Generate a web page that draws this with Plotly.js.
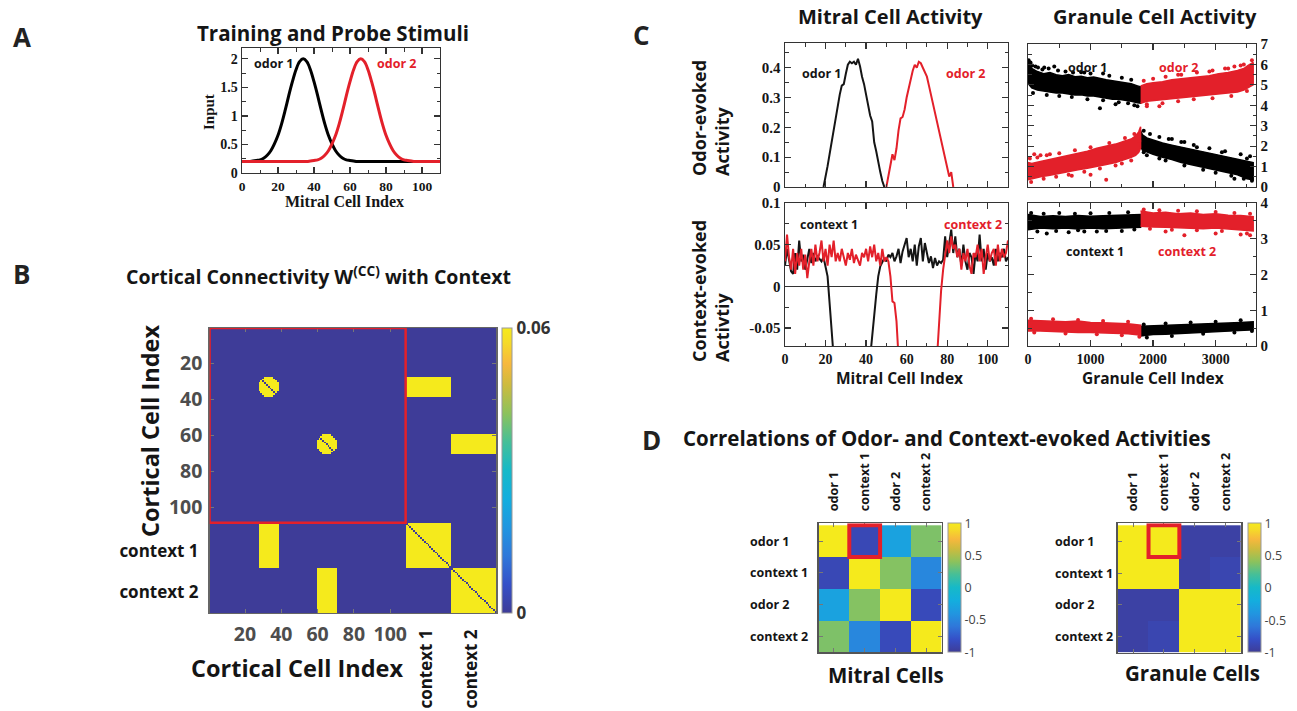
<!DOCTYPE html>
<html>
<head>
<meta charset="utf-8">
<script src="https://cdn.plot.ly/plotly-3.0.1.min.js"></script>
<style>html,body{margin:0;padding:0;background:#fff;}#chart{width:1297px;height:711px;}</style>
</head>
<body>
<div id="chart"></div>
<script>
// ---------------- DATA ----------------
// Panel A: training / probe stimuli (input vs mitral cell index)
const stimIndex = [0,2,4,6,8,10,12,14,16,18,20,22,24,26,28,30,32,34,36,38,40,42,44,46,48,50,52,54,56,58,60,62,64,66,68,70,72,74,76,78,80,82,84,86,88,90,92,94,96,98,100,102,104,106,108,110];
const odor1Input = [0.20,0.20,0.20,0.21,0.22,0.23,0.26,0.31,0.39,0.51,0.66,0.86,1.10,1.36,1.60,1.81,1.95,2.00,1.95,1.81,1.60,1.36,1.10,0.86,0.66,0.51,0.39,0.31,0.26,0.23,0.22,0.21,0.20,0.20,0.20,0.20,0.20,0.20,0.20,0.20,0.20,0.20,0.20,0.20,0.20,0.20,0.20,0.20,0.20,0.20,0.20,0.20,0.20,0.20,0.20,0.20];
const odor2Input = [0.20,0.20,0.20,0.20,0.20,0.20,0.20,0.20,0.20,0.20,0.20,0.20,0.20,0.20,0.20,0.20,0.20,0.20,0.20,0.21,0.22,0.23,0.26,0.31,0.39,0.51,0.66,0.86,1.10,1.36,1.60,1.81,1.95,2.00,1.95,1.81,1.60,1.36,1.10,0.86,0.66,0.51,0.39,0.31,0.26,0.23,0.22,0.21,0.20,0.20,0.20,0.20,0.20,0.20,0.20,0.20];

// Panel B: cortical connectivity structure
const nCortical = 108;
const contextSize = 25;
const contextNames = ['context 1', 'context 2'];
const blobCenters = [33, 65];
const blobRadii = [5.5, 5.5];
const linkedCells = [[28, 38], [60, 70]];      // cortical cells tied to each context
const peakWeight = 0.06;
const cortTicks = [20, 40, 60, 80, 100];
const contextTickX = [120, 145];
const contextTickY = [124, 147];

// Panel C: mitral odor-evoked activity
const odor1MitralX = [19,20,21,22,23,24,25,26,27,28,29,30,31,32,33,34,35,36,37,38,39,40,41,42,43,44,45,46,47,48,49];
const odor1MitralY = [0,0.03,0.07,0.11,0.15,0.20,0.24,0.28,0.31,0.34,0.345,0.38,0.41,0.42,0.415,0.42,0.41,0.43,0.405,0.37,0.345,0.31,0.275,0.24,0.22,0.15,0.12,0.08,0.05,0.02,0];
const odor2MitralX = [50,51,52,53,54,55,56,57,58,59,60,61,62,63,64,65,66,67,68,69,70,71,72,73,74,75,76,77,78,79,80,81,82,83];
const odor2MitralY = [0,0.04,0.08,0.11,0.09,0.13,0.19,0.23,0.235,0.26,0.30,0.33,0.37,0.39,0.41,0.40,0.42,0.415,0.40,0.385,0.37,0.34,0.31,0.28,0.25,0.21,0.18,0.15,0.12,0.09,0.06,0.035,0.05,0];

// Panel C: mitral context-evoked activity (x = mitral index 0..110); null = off scale
const context1Mitral = [0.025,0.045,0.032,0.018,0.015,0.04,0.02,0.055,0.03,0.038,0.02,0.035,0.045,0.028,0.04,0.03,0.036,0.033,0.03,0.035,0.025,0.012,-0.02,-0.05,-0.085,null,null,null,null,null,null,null,null,null,null,null,null,null,null,null,null,null,-0.085,-0.055,-0.035,-0.01,0.012,0.024,0.03,0.034,0.03,0.038,0.035,0.04,0.03,0.036,0.045,0.028,0.042,0.05,0.058,0.035,0.045,0.03,0.05,0.025,0.048,0.058,0.03,0.052,0.04,0.028,0.036,0.022,0.034,0.025,0.03,0.028,0.032,0.06,0.035,0.055,0.068,0.04,0.06,0.035,0.045,0.025,0.05,0.03,0.02,0.04,0.035,0.015,0.04,0.03,0.062,0.03,0.045,0.02,0.04,0.03,0.035,0.025,0.045,0.03,0.04,0.035,0.045,0.03,0.035];
const context2Mitral = [0.03,0.062,0.035,0.02,0.045,0.015,0.04,0.025,0.045,0.02,0.038,0.01,0.03,0.045,0.025,0.05,0.03,0.04,0.055,0.03,0.045,0.025,0.05,0.035,0.055,0.03,0.04,0.03,0.045,0.035,0.025,0.04,0.032,0.045,0.028,0.038,0.03,0.025,0.04,0.035,0.045,0.03,0.048,0.035,0.05,0.03,0.04,0.025,0.045,0.03,0.035,0.03,0.012,-0.018,-0.02,-0.042,-0.085,null,null,null,null,null,null,null,null,null,null,null,null,null,null,null,null,null,null,-0.085,-0.04,-0.005,0.02,0.035,0.055,0.04,0.06,0.045,0.05,0.035,0.045,0.02,0.04,0.03,0.045,0.025,0.015,0.04,0.035,0.05,0.03,0.045,0.015,0.035,0.05,0.03,0.04,0.045,0.025,0.05,0.03,0.045,0.035,0.04,0.055];

// Panel C: granule odor-evoked activity bands (upper / lower edge of dense point clouds)
const odor1HighX = [0,20,60,150,250,350,450,550,650,750,850,950,1050,1150,1250,1350,1450,1550,1650,1750,1800];
const odor1HighTop = [6.25,6.0,5.8,5.65,5.55,5.6,5.5,5.45,5.5,5.4,5.42,5.35,5.38,5.3,5.25,5.2,5.15,5.1,5.05,4.95,4.9];
const odor1HighBot = [5.2,5.0,4.85,4.75,4.7,4.65,4.6,4.6,4.55,4.5,4.52,4.45,4.45,4.4,4.35,4.3,4.3,4.25,4.2,4.12,4.1];
const odor2HighX = [1800,1900,2000,2150,2300,2450,2600,2750,2900,3050,3200,3350,3450,3520,3600];
const odor2HighTop = [4.95,5.05,5.1,5.15,5.25,5.3,5.35,5.4,5.45,5.55,5.6,5.7,5.8,5.95,6.1];
const odor2HighBot = [4.1,4.2,4.22,4.28,4.3,4.35,4.4,4.45,4.5,4.55,4.6,4.65,4.75,4.85,5.0];
const odor2LowX = [0,60,200,350,500,650,800,950,1100,1250,1400,1550,1650,1720,1770,1800];
const odor2LowTop = [1.2,1.15,1.25,1.35,1.45,1.55,1.65,1.75,1.9,2.0,2.1,2.25,2.35,2.5,2.7,2.95];
const odor2LowBot = [0.35,0.38,0.5,0.58,0.65,0.75,0.85,0.92,1.0,1.1,1.2,1.35,1.45,1.55,1.7,1.9];
const odor1LowX = [1800,1830,1900,2000,2150,2300,2450,2600,2750,2900,3050,3200,3350,3500,3600];
const odor1LowTop = [2.75,2.55,2.4,2.3,2.15,2.05,1.95,1.85,1.75,1.65,1.55,1.45,1.35,1.25,1.2];
const odor1LowBot = [2.0,1.8,1.7,1.6,1.45,1.35,1.2,1.1,1.0,0.9,0.8,0.7,0.6,0.4,0.35];
// scattered cells around the dense clouds
const odor1OutX = [40,120,260,420,900,1200,1150,1400,1600,1750,1850,2100,2300,2500,2700,3100,3300,3500,
  10,30,70,160,230,330,480,600,720,850,1000,1300,1500,1650,80,300,500,700,950,1200,1450,1700,
  1850,1950,2100,2250,2450,2650,2900,3150,3400,3550,1900,2200,2500,2800,3000,3250,3450,3580];
const odor1OutY = [6.1,5.9,5.85,5.9,5.6,5.55,3.85,4.05,4.1,3.95,1.7,1.4,2.35,2.2,1.95,1.7,0.4,1.4,
  6.2,6.05,5.95,5.85,5.75,5.8,5.7,5.65,5.6,5.62,5.55,5.45,5.35,5.25,4.6,4.5,4.45,4.4,4.3,4.25,4.15,4.0,
  2.75,2.6,2.45,2.35,2.2,2.05,1.9,1.75,1.6,1.5,1.55,1.3,1.05,0.85,0.7,0.55,0.4,0.3];
const odor2OutX = [100,200,350,700,1000,1250,1500,1780,1900,2100,2400,2900,3200,3400,
  1850,2000,2200,2450,2700,2950,3150,3300,3450,3580,1900,2150,2400,2650,2950,3250,3500,
  30,150,300,500,750,1000,1300,1550,1700,50,250,450,650,900,1150,1400,1650];
const odor2OutY = [1.6,1.55,1.6,0.55,0.6,0.35,1.15,2.25,3.95,3.95,5.5,5.65,5.8,5.95,
  5.2,5.3,5.4,5.5,5.6,5.7,5.8,5.9,6.0,6.2,4.05,4.1,4.2,4.3,4.35,4.45,4.7,
  1.4,1.45,1.55,1.65,1.8,1.95,2.15,2.4,2.6,0.25,0.4,0.5,0.6,0.75,0.9,1.05,1.3];

// Panel C: granule context-evoked activity bands
const firstHalfX = [0,200,400,600,800,1000,1200,1400,1600,1800];
const secondHalfX = [1800,2000,2200,2400,2600,2800,3000,3200,3400,3600];
const ctx1HighTop = [3.68,3.62,3.64,3.62,3.65,3.63,3.64,3.65,3.66,3.68];
const ctx1HighBot = [3.25,3.3,3.28,3.3,3.27,3.3,3.28,3.3,3.3,3.32];
const ctx2HighTop = [3.78,3.72,3.74,3.7,3.72,3.68,3.7,3.66,3.65,3.62];
const ctx2HighBot = [3.35,3.33,3.32,3.3,3.3,3.28,3.3,3.27,3.25,3.22];
const ctx2LowTop = [0.72,0.7,0.7,0.68,0.7,0.66,0.65,0.64,0.62,0.58];
const ctx2LowBot = [0.42,0.42,0.4,0.4,0.38,0.38,0.36,0.36,0.34,0.3];
const ctx1LowTop = [0.55,0.56,0.58,0.6,0.6,0.62,0.63,0.64,0.66,0.68];
const ctx1LowBot = [0.28,0.32,0.33,0.35,0.37,0.38,0.4,0.42,0.43,0.45];
const ctx1OutX = [300,650,900,1100,1500,50,250,500,750,1000,1300,1600,150,450,800,1250,1700,
  1850,2200,2600,3000,3400,1900,2300,2800,3300,3580];
const ctx1OutY = [3.15,3.18,3.2,3.2,3.22,3.72,3.7,3.72,3.7,3.71,3.72,3.74,3.2,3.22,3.24,3.22,3.26,
  0.6,0.63,0.66,0.68,0.72,0.24,0.28,0.34,0.38,0.42];
const ctx2OutX = [2200,2500,3000,3400,3550,1850,2100,2400,2700,3000,3300,3550,1950,2300,2700,3100,3500,
  50,400,800,1200,1600,100,600,1100,1500,1780];
const ctx2OutY = [3.2,3.1,3.15,3.12,3.1,3.82,3.8,3.78,3.77,3.75,3.72,3.7,3.28,3.25,3.24,3.22,3.15,
  0.76,0.75,0.73,0.7,0.68,0.38,0.35,0.33,0.3,0.26];

// Panel D: correlation matrices
const corrLabels = ['odor 1', 'context 1', 'odor 2', 'context 2'];
const mitralCorr = [
  [1.00, -0.88, -0.30, 0.36],
  [-0.88, 1.00, 0.38, -0.50],
  [-0.30, 0.38, 1.00, -0.86],
  [0.36, -0.50, -0.86, 1.00]
];
const granuleCorr = [
  [1.00, 1.00, -0.95, -0.95],
  [1.00, 1.00, -0.95, -0.90],
  [-0.95, -0.95, 1.00, 1.00],
  [-0.95, -0.90, 1.00, 1.00]
];

// ---------------- STYLE / GEOMETRY ----------------
const W = 1297, H = 711;
const SANS = '"Open Sans", Lato, sans-serif';
const SERIF = '"Liberation Serif", "Times New Roman", serif';
const RED = '#e3202a';
const INK = '#151515';
const xd = (l, r) => [l / W, r / W];
const yd = (t, b) => [1 - b / H, 1 - t / H];
const parula = [
  [0, '#3e3c98'], [0.1, '#3550c8'], [0.2, '#2f78da'], [0.3, '#2196e0'],
  [0.4, '#13aede'], [0.5, '#16b9c8'], [0.6, '#45bf98'], [0.7, '#8cc25c'],
  [0.8, '#cdbb3e'], [0.875, '#f7b83d'], [0.95, '#f5db28'], [1, '#f5ea1c']
];
const sf = (size, color) => ({family: SANS, size: size, color: color || INK, weight: 'bold'});

// ---------------- BUILD PANEL B MATRIX ----------------
const nTotal = nCortical + contextSize * contextNames.length;
const cortIdx = Array.from({length: nTotal}, (_, i) => i + 1);
const ctxRange = contextNames.map((_, k) => [nCortical + k * contextSize + 1, nCortical + (k + 1) * contextSize]);
const inR = (v, r) => v >= r[0] && v <= r[1];
const connZ = cortIdx.map(i => cortIdx.map(j => {
  if (i === j) return 0;
  for (let k = 0; k < contextNames.length; k++) {
    if (inR(i, ctxRange[k]) && inR(j, ctxRange[k])) return peakWeight;
    if (inR(i, ctxRange[k]) && inR(j, linkedCells[k])) return peakWeight;
    if (inR(j, ctxRange[k]) && inR(i, linkedCells[k])) return peakWeight;
    const c = blobCenters[k], r = blobRadii[k];
    if ((i - c) * (i - c) + (j - c) * (j - c) <= r * r) return peakWeight;
  }
  return 0;
}));
const mitralCells = Array.from({length: context1Mitral.length}, (_, i) => i);

// ---------------- TRACES ----------------
const band = (xs, top, bot, color, xa, ya) => ({
  type: 'scatter', mode: 'lines', xaxis: xa, yaxis: ya,
  x: xs.concat(xs.slice().reverse()), y: top.concat(bot.slice().reverse()),
  fill: 'toself', fillcolor: color, line: {color: color, width: 1.5}
});
const dots = (xs, ys, color, xa, ya) => ({
  type: 'scatter', mode: 'markers', xaxis: xa, yaxis: ya, x: xs, y: ys,
  marker: {color: color, size: 4}
});
const cbD = (xLeft, top, bottom) => ({
  x: xLeft / W, xanchor: 'left', xpad: 0, y: 1 - (top + bottom) / 2 / H, yanchor: 'middle', ypad: 0,
  len: bottom - top, lenmode: 'pixels', thickness: 12.5, tickvals: [-1, -0.5, 0, 0.5, 1], ticktext: ['-1', '-0.5', '0', '0.5', '1'],
  ticks: '', tickfont: {family: SANS, size: 12.5, color: '#444'}, outlinecolor: '#999', outlinewidth: 1
});

const traces = [
  // A
  {type: 'scatter', mode: 'lines', x: stimIndex, y: odor1Input, xaxis: 'x', yaxis: 'y', line: {color: '#000', width: 3, shape: 'spline'}},
  {type: 'scatter', mode: 'lines', x: stimIndex, y: odor2Input, xaxis: 'x', yaxis: 'y', line: {color: RED, width: 3, shape: 'spline'}},
  // B
  {type: 'heatmap', z: connZ, x: cortIdx, y: cortIdx, xaxis: 'x2', yaxis: 'y2', zmin: 0, zmax: peakWeight,
   colorscale: parula, zsmooth: false,
   colorbar: {x: 501.8 / W, xanchor: 'left', xpad: 0, y: 1 - (328 + 613) / 2 / H, yanchor: 'middle', ypad: 0,
              len: 285, lenmode: 'pixels', thickness: 10, tickvals: [0, peakWeight], ticktext: ['0', '0.06'], ticks: '',
              tickfont: sf(17, '#333'), outlinecolor: '#999', outlinewidth: 1}},
  {type: 'scatter', mode: 'markers', x: [], y: [], xaxis: 'x3', yaxis: 'y3'},
  // C mitral odor
  {type: 'scatter', mode: 'lines', x: odor1MitralX, y: odor1MitralY, xaxis: 'x4', yaxis: 'y4', line: {color: INK, width: 2}},
  {type: 'scatter', mode: 'lines', x: odor2MitralX, y: odor2MitralY, xaxis: 'x4', yaxis: 'y4', line: {color: RED, width: 2}},
  // C granule odor
  band(odor1HighX, odor1HighTop, odor1HighBot, '#000', 'x5', 'y5'),
  band(odor1LowX, odor1LowTop, odor1LowBot, '#000', 'x5', 'y5'),
  band(odor2HighX, odor2HighTop, odor2HighBot, RED, 'x5', 'y5'),
  band(odor2LowX, odor2LowTop, odor2LowBot, RED, 'x5', 'y5'),
  dots(odor1OutX, odor1OutY, '#000', 'x5', 'y5'),
  dots(odor2OutX, odor2OutY, RED, 'x5', 'y5'),
  // C mitral context
  {type: 'scatter', mode: 'lines', x: mitralCells, y: context1Mitral, xaxis: 'x6', yaxis: 'y6', line: {color: INK, width: 2}},
  {type: 'scatter', mode: 'lines', x: mitralCells, y: context2Mitral, xaxis: 'x6', yaxis: 'y6', line: {color: RED, width: 2}},
  // C granule context
  band(firstHalfX, ctx1HighTop, ctx1HighBot, '#000', 'x7', 'y7'),
  band(secondHalfX, ctx1LowTop, ctx1LowBot, '#000', 'x7', 'y7'),
  band(secondHalfX, ctx2HighTop, ctx2HighBot, RED, 'x7', 'y7'),
  band(firstHalfX, ctx2LowTop, ctx2LowBot, RED, 'x7', 'y7'),
  dots(ctx1OutX, ctx1OutY, '#000', 'x7', 'y7'),
  dots(ctx2OutX, ctx2OutY, RED, 'x7', 'y7'),
  // D
  {type: 'heatmap', z: mitralCorr, x: corrLabels, y: corrLabels, xaxis: 'x8', yaxis: 'y8', zmin: -1, zmax: 1, colorscale: parula,
   colorbar: cbD(948.3, 523.3, 652.3)},
  {type: 'heatmap', z: granuleCorr, x: corrLabels, y: corrLabels, xaxis: 'x9', yaxis: 'y9', zmin: -1, zmax: 1, colorscale: parula,
   colorbar: cbD(1248.3, 523.3, 652.5)}
];
traces.forEach(t => { t.showlegend = false; t.hoverinfo = 'skip'; });

// ---------------- AXES ----------------
const grace = (extra, minorDtick) => Object.assign({
  showline: true, linecolor: '#333', linewidth: 1.4, mirror: 'ticks', ticks: 'inside', ticklen: 6,
  tickwidth: 1.2, tickcolor: '#333', showgrid: false, zeroline: false,
  tickfont: {family: SERIF, size: 15, color: INK, weight: 'bold'},
  minor: {ticks: 'inside', ticklen: 3.5, tickwidth: 1, tickcolor: '#333', dtick: minorDtick, tick0: 0, showgrid: false}
}, extra);
const matlabAx = (extra) => Object.assign({
  showline: true, linecolor: '#666', linewidth: 1.3, mirror: 'ticks', ticks: 'inside', ticklen: 4,
  tickwidth: 1, tickcolor: '#777', showgrid: false, zeroline: false
}, extra);
const serifT = {family: SERIF, size: 14, color: INK, weight: 'bold'};

const layout = {
  width: W, height: H, margin: {l: 0, r: 0, t: 0, b: 0, autoexpand: false},
  paper_bgcolor: '#fff', plot_bgcolor: '#fff', showlegend: false,
  font: {family: SANS, color: INK},
  // A
  xaxis: grace({domain: xd(242, 440), anchor: 'y', range: [0, 110], tickmode: 'linear', tick0: 0, dtick: 20,
    tickfont: {family: SERIF, size: 13.5, color: INK, weight: 'bold'}, ticklabelstandoff: 0}, 10),
  yaxis: grace({domain: yd(48, 173), anchor: 'x', range: [0, 2.19], tickvals: [0, 0.5, 1, 1.5, 2], ticktext: ['0', '0.5', '1', '1.5', '2'], tickfont: serifT}, 0.25),
  // B
  xaxis2: matlabAx({domain: xd(209.6, 496.4), anchor: 'y2', range: [0.5, nTotal + 0.5], tickvals: cortTicks,
    tickfont: sf(19.5, '#4d4d4d'), ticklabelstandoff: 3}),
  yaxis2: matlabAx({domain: yd(328, 613), anchor: 'x2', range: [nTotal + 0.5, 0.5], tickvals: cortTicks,
    tickfont: sf(19.5, '#4d4d4d'), ticklabelstandoff: 2}),
  xaxis3: {overlaying: 'x2', anchor: 'y3', side: 'bottom', range: [0.5, nTotal + 0.5], tickvals: contextTickX, ticktext: contextNames,
    tickangle: -90, ticks: '', showline: false, showgrid: false, zeroline: false, ticklabelstandoff: 12, tickfont: sf(17)},
  yaxis3: {overlaying: 'y2', anchor: 'x3', side: 'left', range: [nTotal + 0.5, 0.5], tickvals: contextTickY, ticktext: contextNames,
    ticks: '', showline: false, showgrid: false, zeroline: false, ticklabelstandoff: 10, tickfont: sf(17)},
  // C
  xaxis4: grace({domain: xd(785, 1008), anchor: 'y4', range: [0, 110], tickmode: 'linear', tick0: 0, dtick: 20, showticklabels: false}, 10),
  yaxis4: grace({domain: yd(43, 187), anchor: 'x4', range: [0, 0.483], tickvals: [0, 0.1, 0.2, 0.3, 0.4], ticktext: ['0', '0.1', '0.2', '0.3', '0.4']}, 0.05),
  xaxis5: grace({domain: xd(1028, 1256), anchor: 'y5', range: [0, 3645], tickmode: 'linear', tick0: 0, dtick: 1000, showticklabels: false}, 500),
  yaxis5: grace({domain: yd(44, 187), anchor: 'x5', side: 'right', range: [0, 7], tickmode: 'linear', tick0: 0, dtick: 1}, 0.5),
  xaxis6: grace({domain: xd(785, 1008), anchor: 'y6', range: [0, 110], tickmode: 'linear', tick0: 0, dtick: 20, ticklabelstandoff: 0,
    tickfont: {family: SERIF, size: 14, color: INK, weight: 'bold'}}, 10),
  yaxis6: grace({domain: yd(203, 346), anchor: 'x6', range: [-0.0715, 0.1], tickvals: [-0.05, 0, 0.05, 0.1], ticktext: ['-0.05', '0', '0.05', '0.1'],
    zeroline: true, zerolinecolor: '#333', zerolinewidth: 1}, 0.025),
  xaxis7: grace({domain: xd(1028, 1256), anchor: 'y7', range: [0, 3645], tickmode: 'linear', tick0: 0, dtick: 1000, ticklabelstandoff: 0,
    tickfont: {family: SERIF, size: 14, color: INK, weight: 'bold'}}, 500),
  yaxis7: grace({domain: yd(203, 346), anchor: 'x7', side: 'right', range: [0, 4], tickmode: 'linear', tick0: 0, dtick: 1}, 0.5),
  // D
  xaxis8: matlabAx({domain: xd(818.5, 941.7), anchor: 'y8', side: 'top', type: 'category', tickangle: -90, ticklabelstandoff: 8,
    linecolor: '#555', linewidth: 1.6, tickfont: sf(12.5)}),
  yaxis8: matlabAx({domain: yd(523.3, 652.3), anchor: 'x8', type: 'category', autorange: 'reversed', showticklabels: false,
    linecolor: '#555', linewidth: 1.6}),
  xaxis9: matlabAx({domain: xd(1117.7, 1241), anchor: 'y9', side: 'top', type: 'category', tickangle: -90, ticklabelstandoff: 8,
    linecolor: '#555', linewidth: 1.6, tickfont: sf(12.5)}),
  yaxis9: matlabAx({domain: yd(523.3, 652.5), anchor: 'x9', type: 'category', autorange: 'reversed', showticklabels: false,
    linecolor: '#555', linewidth: 1.6}),
  shapes: [
    {type: 'rect', xref: 'x2', yref: 'y2', x0: 0.5, x1: nCortical + 0.5, y0: 0.5, y1: nCortical + 0.5, line: {color: RED, width: 2.5}, layer: 'above'},
    {type: 'rect', xref: 'x8', yref: 'y8', x0: 0.5, x1: 1.5, y0: -0.5, y1: 0.5, line: {color: RED, width: 4}, layer: 'above'},
    {type: 'rect', xref: 'x9', yref: 'y9', x0: 0.5, x1: 1.5, y0: -0.5, y1: 0.5, line: {color: RED, width: 4}, layer: 'above'}
  ],
  annotations: []
};

// ---------------- TEXT ----------------
const A = layout.annotations;
const txt = (text, x, y, size, opts) => A.push(Object.assign({
  text: text, x: x / W, y: 1 - y / H, xref: 'paper', yref: 'paper', showarrow: false,
  xanchor: 'center', yanchor: 'middle', font: sf(size)
}, opts || {}));

// panel letters
['A', 'B', 'C', 'D'].forEach((L, i) => {
  const pos = [[22, 37], [21, 274], [641, 35], [651, 440]][i];
  txt(L, pos[0], pos[1], 26, {font: sf(26, '#222')});
});
// titles
txt('Training and Probe Stimuli', 333, 33, 20.5);
txt('Cortical Connectivity W<sup>(CC)</sup> with Context', 318, 275, 19.5);
txt('Mitral Cell Activity', 890, 16, 20);
txt('Granule Cell Activity', 1155, 16, 20);
txt('Correlations of Odor- and Context-evoked Activities', 947, 438, 20.5);
// A labels
txt('odor 1', 273, 63, 12.5);
txt('odor 2', 396, 63, 12.5, {font: sf(12.5, RED)});
txt('Input', 209, 112, 15, {textangle: -90, font: {family: SERIF, size: 15, color: INK, weight: 'bold'}});
txt('Mitral Cell Index', 344, 202, 16, {font: {family: SERIF, size: 16, color: INK, weight: 'bold'}});
// B labels
txt('Cortical Cell Index', 297, 668, 23.5);
txt('Cortical Cell Index', 150, 431, 23.5, {textangle: -90});
// C labels
txt('odor 1', 821, 74, 12.5);
txt('odor 2', 965, 74, 12.5, {font: sf(12.5, RED)});
txt('odor 1', 1087, 68, 12.5);
txt('odor 2', 1178, 68, 12.5, {font: sf(12.5, RED)});
txt('context 1', 829, 224, 12.5);
txt('context 2', 973, 224, 12.5, {font: sf(12.5, RED)});
txt('context 1', 1095, 251, 12.5);
txt('context 2', 1187, 251, 12.5, {font: sf(12.5, RED)});
txt('Odor-evoked<br>Activity', 710, 118, 18, {textangle: -90, align: 'left'});
txt('Context-evoked<br>Activtiy', 710, 291, 18, {textangle: -90, align: 'left'});
txt('Mitral Cell Index', 900, 378, 15.5);
txt('Granule Cell Index', 1153, 378, 15.5);
// D labels
corrLabels.forEach(c => {
  A.push({text: c, xref: 'paper', x: 748.3 / W, xanchor: 'left', yref: 'y8', y: c, yanchor: 'middle', showarrow: false, font: sf(12.5)});
  A.push({text: c, xref: 'paper', x: 1053.3 / W, xanchor: 'left', yref: 'y9', y: c, yanchor: 'middle', showarrow: false, font: sf(12.5)});
});
txt('Mitral Cells', 886, 675, 20.5);
txt('Granule Cells', 1192, 673, 20.5);

Plotly.newPlot('chart', traces, layout, {displayModeBar: false, staticPlot: true});
</script>
</body>
</html>
